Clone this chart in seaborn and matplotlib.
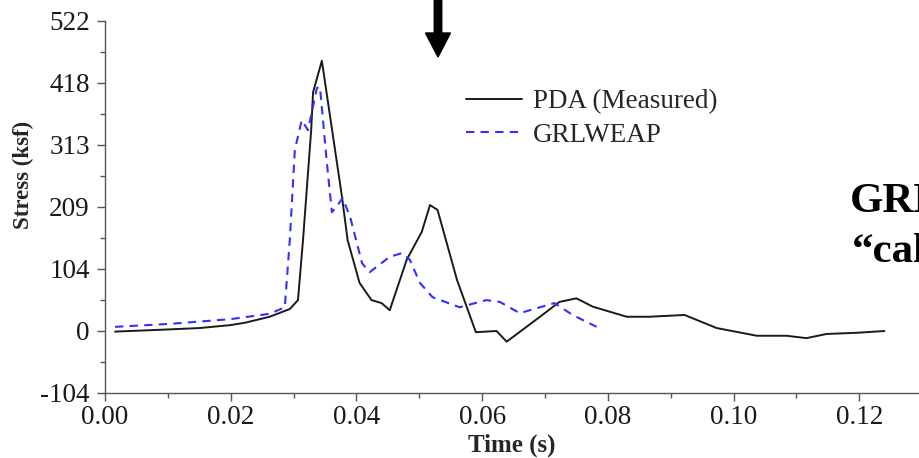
import matplotlib
matplotlib.use("Agg")
import matplotlib.pyplot as plt
from matplotlib.patches import FancyArrow
from matplotlib.ticker import MultipleLocator
import seaborn as sns
import pandas as pd

# ---- data ----
pda_time = [0.0016, 0.0087, 0.0151, 0.0200, 0.0223, 0.0262, 0.0294, 0.0307, 0.0315,
            0.0328, 0.0331, 0.0345, 0.0377, 0.0386, 0.0405, 0.0424, 0.0440, 0.0453,
            0.0480, 0.0504, 0.0517, 0.0529, 0.0560, 0.0590, 0.0623, 0.0639, 0.0692,
            0.0723, 0.0750, 0.0776, 0.0830, 0.0866, 0.0922, 0.0973, 0.1037, 0.1084,
            0.1116, 0.1148, 0.1196, 0.1240]
pda_stress = [-1, 2, 5, 10, 14, 24, 37, 52, 153,
              338, 402, 455, 226, 153, 81, 52, 47, 35,
              120, 167, 212, 204, 86, -2, 0, -18, 24,
              49, 55, 41, 24, 24, 27, 5, -8, -8,
              -12, -5, -3, 0]

grl_time = [0.0016, 0.0103, 0.0200, 0.0262, 0.0286, 0.0294, 0.0302, 0.0313, 0.0323,
            0.0337, 0.0342, 0.0353, 0.0361, 0.0369, 0.0378, 0.0390, 0.0409, 0.0421,
            0.0453, 0.0472, 0.0485, 0.0501, 0.0521, 0.0564, 0.0607, 0.0628, 0.0660,
            0.0692, 0.0715, 0.0744, 0.0782]
grl_stress = [7, 12, 20, 29, 40, 153, 305, 355, 338,
              409, 411, 283, 200, 210, 224, 192, 114, 99,
              125, 131, 120, 81, 57, 40, 52, 49, 30,
              40, 47, 27, 7]

y_ticks = [-104.4, 0, 104.4, 208.8, 313.2, 417.6, 522]
y_tick_labels = ["-104", "0", "104", "209", "313", "418", "522"]
x_ticks = [0.00, 0.02, 0.04, 0.06, 0.08, 0.10, 0.12]
x_tick_labels = ["0.00", "0.02", "0.04", "0.06", "0.08", "0.10", "0.12"]
series_names = ["PDA (Measured)", "GRLWEAP"]

pda_df = pd.DataFrame({"Time": pda_time, "Stress": pda_stress})
grl_df = pd.DataFrame({"Time": grl_time, "Stress": grl_stress})

sns.set_style("ticks")
plt.rcParams["font.family"] = ["Liberation Serif", "DejaVu Serif"]

W, H = 920, 458
fig = plt.figure(figsize=(W / 100, H / 100), dpi=100)
ax = fig.add_axes([105 / W, (H - 393) / H, 880 / W, 372 / H])

sns.lineplot(data=pda_df, x="Time", y="Stress", ax=ax, color="#1a1a1a",
             linewidth=1.4, label=series_names[0], sort=False)
sns.lineplot(data=grl_df, x="Time", y="Stress", ax=ax, color="#3030ff",
             linewidth=1.5, label=series_names[1], sort=False)
ax.lines[1].set_dashes([4, 3])

ax.set_xlim(0, 0.14)
ax.set_ylim(-104.4, 522)
ax.set_yticks(y_ticks)
ax.set_yticklabels(y_tick_labels)
ax.set_xticks(x_ticks)
ax.set_xticklabels(x_tick_labels)
ax.yaxis.set_minor_locator(MultipleLocator(52.2))
ax.xaxis.set_minor_locator(MultipleLocator(0.01))

for s in ["top", "right"]:
    ax.spines[s].set_visible(False)
for s in ["left", "bottom"]:
    ax.spines[s].set_color("#555555")
    ax.spines[s].set_linewidth(1.0)

ax.tick_params(axis="both", which="major", direction="out", length=6, width=1.0,
               color="#555555", labelsize=19.5, labelcolor="#1a1a1a")
ax.tick_params(axis="both", which="minor", direction="out", length=3.5, width=1.0,
               color="#555555")
ax.tick_params(axis="y", which="major", pad=5)
ax.tick_params(axis="x", which="major", pad=3)

ax.set_xlabel("Time (s)", fontsize=18, fontweight="bold")
ax.set_ylabel("Stress (ksf)", fontsize=16.5, fontweight="bold")
ax.xaxis.set_label_coords((512 - 105) / 880, -0.110)
ax.yaxis.set_label_coords((34 - 105) / 880, (393 - 175) / 372)

leg = ax.legend(loc="upper left", bbox_to_anchor=(466 / W, (H - 89) / H),
                bbox_transform=fig.transFigure, frameon=False, fontsize=19.5,
                handlelength=2.07, handletextpad=0.4, labelspacing=0.33,
                borderpad=0, borderaxespad=0)

# arrow at top
fig.add_artist(FancyArrow(4.38, 4.60, 0, -0.59, width=0.075, head_width=0.25,
                          head_length=0.24, length_includes_head=True,
                          color="black", transform=fig.dpi_scale_trans))

# annotation text on the right (runs off the edge, as in the reference)
fig.text(850 / W, (H - 211) / H, "GRLWEAP", fontsize=31, fontweight="bold",
         va="baseline", ha="left", color="black")
fig.text(852 / W, (H - 262) / H, "\u201ccalibrated\u201d", fontsize=31,
         fontweight="bold", va="baseline", ha="left", color="black")

fig.savefig("out.png", dpi=100)
